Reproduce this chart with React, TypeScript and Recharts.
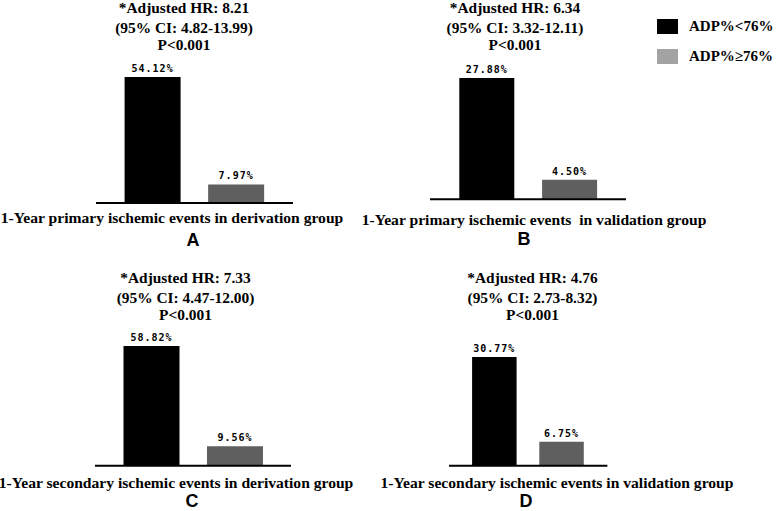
import { Bar, BarChart, Cell, LabelList, XAxis, YAxis } from "recharts";

// groups compared in every panel
const groups = ["ADP%<76%", "ADP%≥76%"];
const groupColors = ["#000000", "#5f5f5f"];
const legendColors = ["#000000", "#a3a3a3"];

// event rates (%) per panel: [ADP%<76%, ADP%≥76%]
const primaryDerivation = [54.12, 7.97];
const primaryValidation = [27.88, 4.5];
const secondaryDerivation = [58.82, 9.56];
const secondaryValidation = [30.77, 6.75];

const hrLines = ["*Adjusted HR: 8.21", "*Adjusted HR: 6.34", "*Adjusted HR: 7.33", "*Adjusted HR: 4.76"];
const ciLines = ["(95% CI: 4.82-13.99)", "(95% CI: 3.32-12.11)", "(95% CI: 4.47-12.00)", "(95% CI: 2.73-8.32)"];
const pLines = ["P<0.001", "P<0.001", "P<0.001", "P<0.001"];
const subtitles = [
  "1-Year primary ischemic events in derivation group",
  "1-Year primary ischemic events  in validation group",
  "1-Year secondary ischemic events in derivation group",
  "1-Year secondary ischemic events in validation group",
];
const panelLetters = ["A", "B", "C", "D"];

const values = [primaryDerivation, primaryValidation, secondaryDerivation, secondaryValidation];

const layout = [
  { x0: 96, x1: 293, top: 76.7, base: 202.7, padL: 14.6, padR: 15.3, bar: 56, titleX: 184, titleY: 7.6, subX: 172, subY: 218, letterX: 193, letterY: 240 },
  { x0: 430, x1: 626, top: 78, base: 199.3, padL: 15.3, padR: 15.1, bar: 55, titleX: 515, titleY: 7.6, subX: 534, subY: 220, letterX: 524, letterY: 239 },
  { x0: 95, x1: 291, top: 346, base: 465.7, padL: 14.5, padR: 14.5, bar: 56, titleX: 185.5, titleY: 277.7, subX: 176, subY: 483.3, letterX: 192, letterY: 501.2 },
  { x0: 449.3, x1: 607.7, top: 357, base: 465.7, padL: 12.1, padR: 11.9, bar: 44.5, titleX: 532.5, titleY: 277.7, subX: 557, subY: 482.7, letterX: 526, letterY: 501.2 },
];
const titleLineOffsets = [0, 20, 37.3];

const serif = "'Liberation Serif', 'Times New Roman', serif";
const MARGIN_TOP = 24;
const AXIS_H = 2;

function Panel({ idx }: { idx: number }) {
  const l = layout[idx];
  const vals = values[idx];
  const rows = groups.map((g, i) => ({ group: g, value: vals[i] }));
  const width = l.x1 - l.x0;
  const plotH = l.base - l.top;
  const height = MARGIN_TOP + plotH + AXIS_H;
  const titleLines = [hrLines[idx], ciLines[idx], pLines[idx]];

  return (
    <>
      {titleLines.map((t, k) => (
        <div
          key={k}
          style={{
            position: "absolute",
            left: l.titleX,
            top: l.titleY + titleLineOffsets[k] - 7,
            transform: "translateX(-50%)",
            whiteSpace: "nowrap",
            fontFamily: serif,
            fontWeight: "bold",
            fontSize: 15.4,
            lineHeight: "14px",
            color: "#000",
          }}
        >
          {t}
        </div>
      ))}
      <div style={{ position: "absolute", left: l.x0, top: l.top - MARGIN_TOP }}>
        <BarChart
          data={rows}
          height={height}
          margin={{ top: MARGIN_TOP, right: 0, bottom: 0, left: 0 }}
          width={width}
        >
          <XAxis
            axisLine={{ stroke: "#000", strokeWidth: 2 }}
            dataKey="group"
            height={AXIS_H}
            padding={{ left: l.padL, right: l.padR }}
            tick={false}
            tickLine={false}
          />
          <YAxis domain={[0, Math.max(...vals)]} hide type="number" />
          <Bar barSize={l.bar} dataKey="value" isAnimationActive={false}>
            {rows.map((r, i) => (
              <Cell fill={groupColors[i]} key={r.group} />
            ))}
            <LabelList
              dataKey="value"
              fill="#000"
              formatter={(v: any) => `${Number(v).toFixed(2)}%`}
              offset={5}
              position="top"
              style={{ fontFamily: "'DejaVu Sans Mono', monospace", fontWeight: "bold", fontSize: 10, letterSpacing: 1 }}
            />
          </Bar>
        </BarChart>
      </div>
      <div
        style={{
          position: "absolute",
          left: l.subX,
          top: l.subY,
          transform: "translate(-50%, -50%)",
          whiteSpace: "pre",
          fontFamily: serif,
          fontWeight: "bold",
          fontSize: 15.6,
          lineHeight: "18px",
          color: "#000",
        }}
      >
        {subtitles[idx]}
      </div>
      <div
        style={{
          position: "absolute",
          left: l.letterX,
          top: l.letterY,
          transform: "translate(-50%, -50%)",
          fontFamily: "'Liberation Sans', Arial, sans-serif",
          fontWeight: "bold",
          fontSize: 18,
          lineHeight: "13px",
          color: "#000",
        }}
      >
        {panelLetters[idx]}
      </div>
    </>
  );
}

export default function App() {
  return (
    <div style={{ position: "absolute", left: 0, top: 0, width: 778, height: 511, background: "#fff" }}>
      {values.map((_, i) => (
        <Panel idx={i} key={panelLetters[i]} />
      ))}
      {groups.map((g, i) => (
        <div key={g} style={{ position: "absolute", left: 657, top: 19 + i * 30, display: "flex", alignItems: "center" }}>
          <div style={{ width: 21, height: 15, background: legendColors[i] }} />
          <div
            style={{
              marginLeft: 11,
              fontFamily: serif,
              fontWeight: "bold",
              fontSize: 15,
              lineHeight: "15px",
              color: "#000",
              whiteSpace: "nowrap",
            }}
          >
            {g}
          </div>
        </div>
      ))}
    </div>
  );
}
